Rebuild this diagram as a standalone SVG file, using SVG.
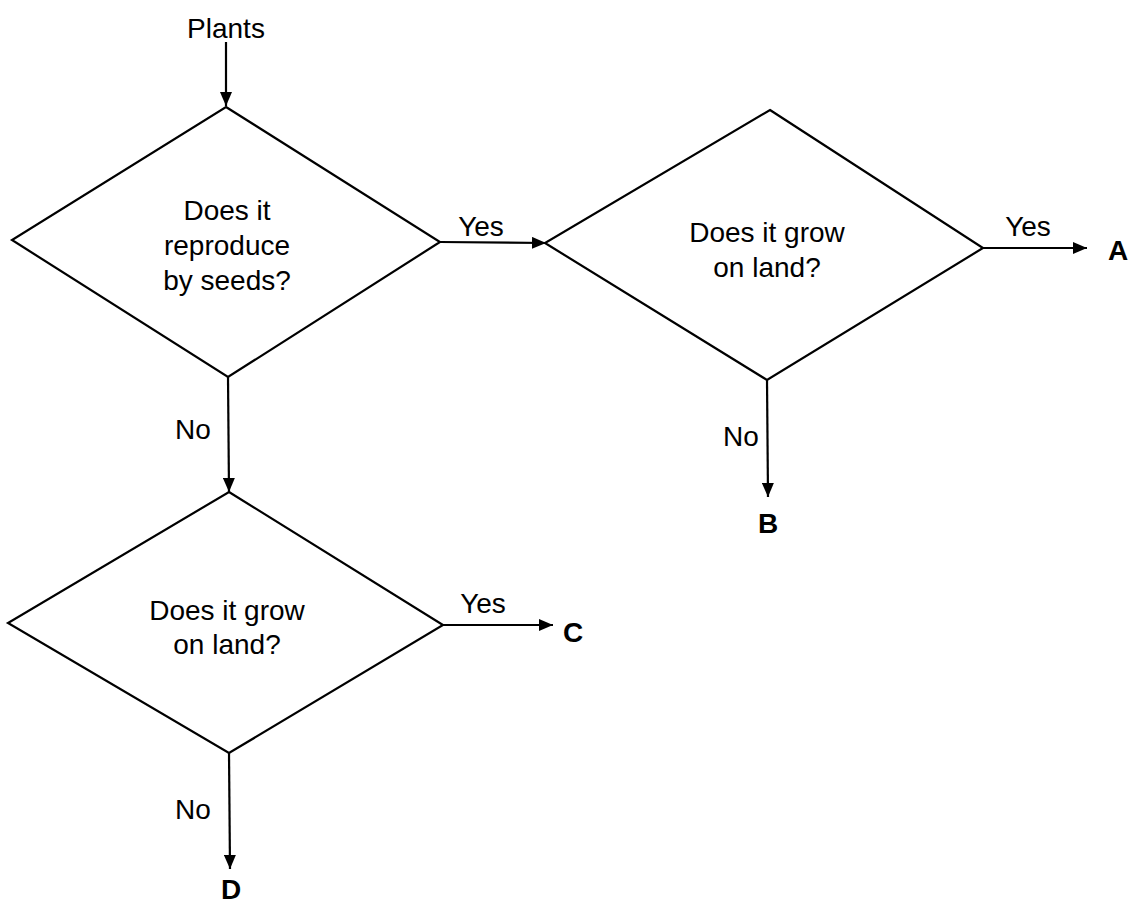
<svg xmlns="http://www.w3.org/2000/svg" width="1135" height="907" viewBox="0 0 1135 907">
<defs>
<marker id="arr" viewBox="0 0 14 12" refX="14" refY="6" markerWidth="14" markerHeight="12" orient="auto" markerUnits="userSpaceOnUse">
<path d="M0,0 L14,6 L0,12 z" fill="#000"/>
</marker>
<style>
.t{font-family:"Liberation Sans",Arial,sans-serif;font-size:28px;fill:#000;text-anchor:middle}
.b{font-family:"Liberation Sans",Arial,sans-serif;font-size:28px;font-weight:bold;fill:#000;text-anchor:middle}
.d{fill:#fff;stroke:#000;stroke-width:2.2}
.c{stroke:#000;stroke-width:2.2;fill:none;marker-end:url(#arr)}
</style>
</defs>
<rect width="1135" height="907" fill="#fff"/>
<g id="connectors">
<line class="c" x1="226" y1="42" x2="226" y2="106"/>
<line class="c" x1="440" y1="242" x2="546" y2="243"/>
<line class="c" x1="983" y1="248" x2="1087" y2="248"/>
<line class="c" x1="767" y1="380" x2="768" y2="497"/>
<line class="c" x1="228" y1="377" x2="229" y2="492"/>
<line class="c" x1="443" y1="625" x2="553" y2="625"/>
<line class="c" x1="229" y1="753" x2="230" y2="869"/>
<text class="t" x="226" y="38">Plants</text>
<text class="t" x="481" y="236">Yes</text>
<text class="t" x="1028" y="236">Yes</text>
<text class="t" x="741" y="446">No</text>
<text class="t" x="193" y="439">No</text>
<text class="t" x="483" y="613">Yes</text>
<text class="t" x="193" y="819">No</text>
</g>
<g id="q1">
<polygon class="d" points="226,107 440,242 228,377 12,240"/>
<text class="t" x="227" y="220">Does it</text>
<text class="t" x="227" y="255">reproduce</text>
<text class="t" x="227" y="290">by seeds?</text>
</g>
<g id="q2">
<polygon class="d" points="770,110 983,248 767,380 545,243"/>
<text class="t" x="767" y="242">Does it grow</text>
<text class="t" x="767" y="277">on land?</text>
</g>
<g id="q3">
<polygon class="d" points="229,492 443,625 229,753 8,623"/>
<text class="t" x="227" y="620">Does it grow</text>
<text class="t" x="227" y="654">on land?</text>
</g>
<g id="A"><text class="b" x="1118" y="260">A</text></g>
<g id="B"><text class="b" x="768" y="533">B</text></g>
<g id="C"><text class="b" x="573" y="642">C</text></g>
<g id="D"><text class="b" x="231" y="899">D</text></g>
</svg>
